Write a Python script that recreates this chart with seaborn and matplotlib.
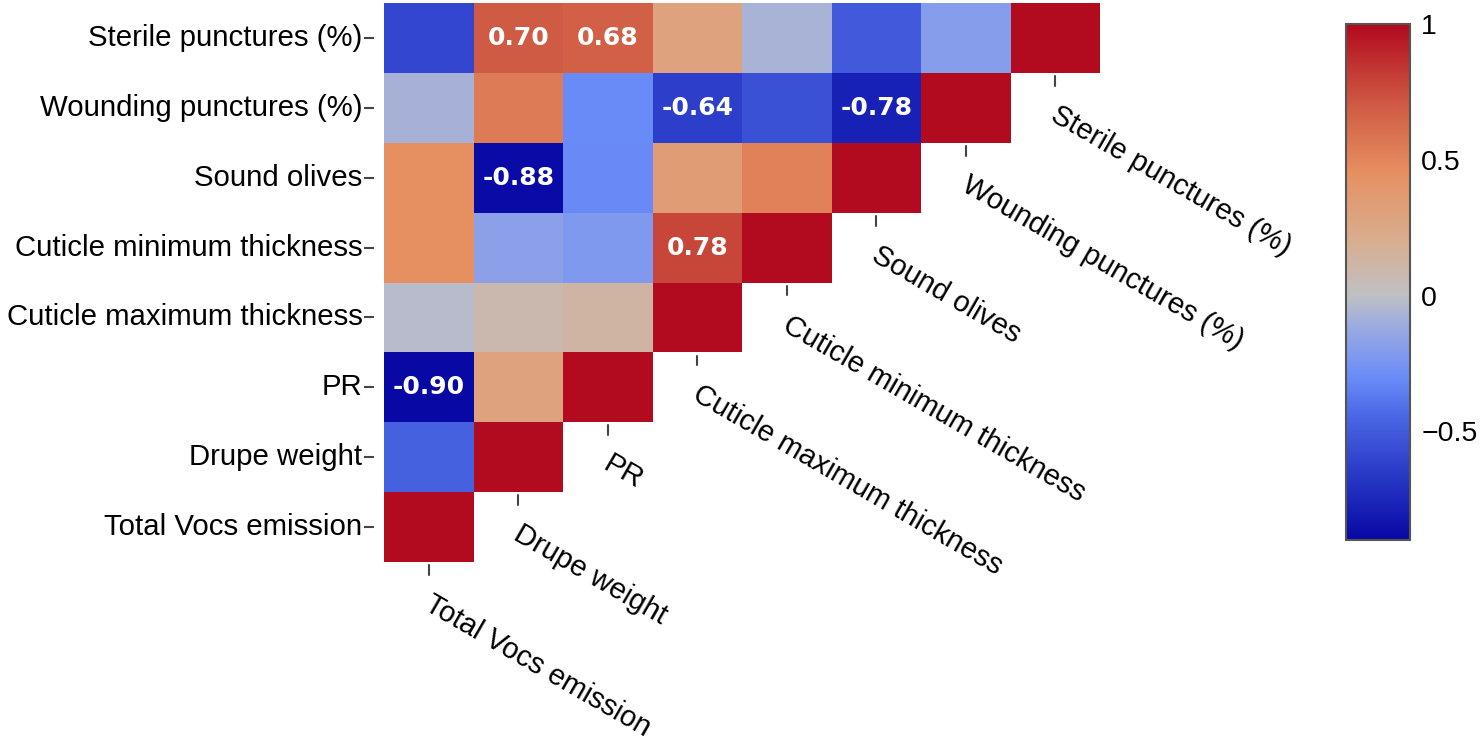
import numpy as np
import pandas as pd
import matplotlib
matplotlib.use("Agg")
import matplotlib.pyplot as plt
import seaborn as sns
from matplotlib.colors import LinearSegmentedColormap

# variables, in column order (left to right); rows are drawn bottom-up
variables = [
    "Total Vocs emission",
    "Drupe weight",
    "PR",
    "Cuticle maximum thickness",
    "Cuticle minimum thickness",
    "Sound olives",
    "Wounding punctures (%)",
    "Sterile punctures (%)",
]

# lower triangle of the correlation matrix
corr_rows = [
    [1.00],
    [-0.47, 1.00],
    [-0.90, 0.30, 1.00],
    [-0.03, 0.08, 0.13, 1.00],
    [0.45, -0.18, -0.22, 0.78, 1.00],
    [0.45, -0.88, -0.31, 0.35, 0.52, 1.00],
    [-0.08, 0.55, -0.30, -0.64, -0.55, -0.78, 1.00],
    [-0.60, 0.70, 0.68, 0.30, -0.07, -0.50, -0.20, 1.00],
]

# only the strongest correlations get a number
annot_limit = 0.63

# colour scale taken from the colour bar
vmin, vmax = -0.9, 1.0
cmap_stops = [-0.9, -0.65, -0.45, -0.3, -0.12, 0.0, 0.2, 0.45, 0.7, 1.0]
cmap_colors = ["#0808a4", "#2a3cc8", "#4a66e4", "#6a8cf8", "#9aaae0",
               "#c0c0c4", "#d8ae90", "#e69062", "#d05c44", "#b20a1e"]
cbar_ticks = [1, 0.5, 0, -0.5]
cbar_labels = ["1", "0.5", "0", "\u22120.5"]

# build the matrix
n = len(variables)
corr = np.full((n, n), np.nan)
for i, row in enumerate(corr_rows):
    corr[i, :len(row)] = row
    corr[:len(row), i] = row

df = pd.DataFrame(corr, index=variables, columns=variables)
mask = np.triu(np.ones((n, n), dtype=bool), k=1)
show = (np.abs(corr) >= annot_limit) & ~np.eye(n, dtype=bool)
annot = np.where(show, np.vectorize(lambda v: f"{v:.2f}")(corr), "")

# rows flipped so the first variable ends up at the bottom
plot_df = df.iloc[::-1]
plot_mask = mask[::-1]
plot_annot = annot[::-1]

cmap = LinearSegmentedColormap.from_list(
    "corr",
    [((v - vmin) / (vmax - vmin), c) for v, c in zip(cmap_stops, cmap_colors)],
)

sns.set_style("white")
plt.rcParams["font.family"] = ["Liberation Sans", "DejaVu Sans"]
plt.rcParams["text.color"] = "black"
plt.rcParams["xtick.labelcolor"] = "black"
plt.rcParams["ytick.labelcolor"] = "black"

W, H = 1481, 743
fig = plt.figure(figsize=(W / 100, H / 100), dpi=100)
ax = fig.add_axes([384 / W, 1 - 562 / H, 716 / W, 559 / H])
cax = fig.add_axes([1346 / W, 1 - 540 / H, 64 / W, 516 / H])

sns.heatmap(
    plot_df,
    mask=plot_mask,
    cmap=cmap,
    vmin=vmin,
    vmax=vmax,
    annot=plot_annot,
    fmt="",
    annot_kws={"color": "white", "fontsize": 18, "fontweight": "bold",
               "family": "DejaVu Sans"},
    xticklabels=False,
    yticklabels=True,
    cbar_ax=cax,
    ax=ax,
)

# y axis: ticks sit a little away from the cells
ax.spines["left"].set_position(("outward", 7))
ax.tick_params(axis="y", left=True, length=7, width=1.5, color="#444444",
               pad=1.5, labelsize=21.2, labelcolor="black")
plt.setp(ax.get_yticklabels(), rotation=0, va="center")
ax.set_xlabel("")
ax.set_ylabel("")

# x labels follow the diagonal
for j, name in enumerate(variables):
    y0 = n - j
    ax.plot([j + 0.5, j + 0.5], [y0 + 0.045, y0 + 0.185],
            color="#444444", lw=1.5, clip_on=False)
    ax.annotate(name, xy=(j + 0.5, y0), xytext=(5, -28),
                textcoords="offset pixels", rotation=-30,
                rotation_mode="anchor", ha="left", va="top",
                fontsize=21, color="black", annotation_clip=False)

# colour bar
cbar = ax.collections[0].colorbar
cbar.outline.set_edgecolor("#555555")
cbar.outline.set_linewidth(1.5)
cbar.set_ticks(cbar_ticks)
cbar.set_ticklabels(cbar_labels)
cbar.ax.tick_params(length=0, labelsize=20.5, pad=8, labelcolor="black")

fig.savefig("out.png", dpi=100, facecolor="white")
